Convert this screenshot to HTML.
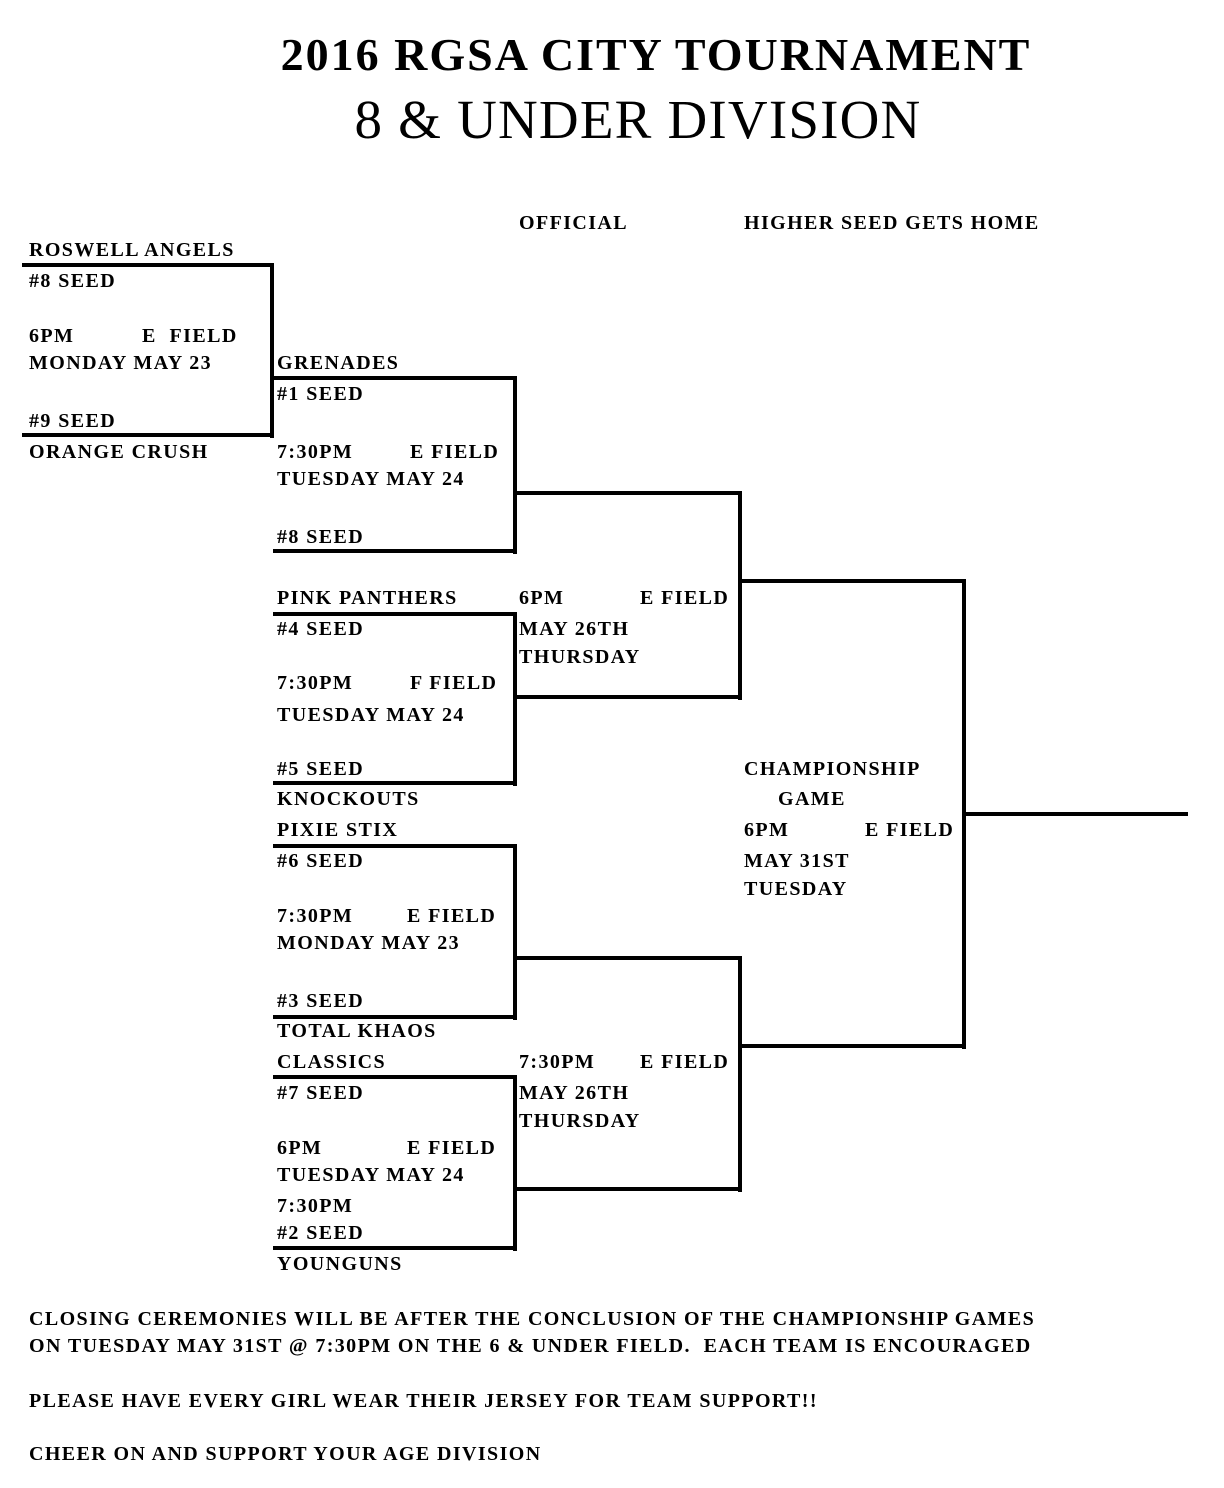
<!DOCTYPE html>
<html><head><meta charset="utf-8"><style>
body{margin:0;background:#fff;}
#c{position:relative;width:1224px;height:1488px;overflow:hidden;font-family:"Liberation Serif",serif;color:#000;}
.t{position:absolute;font-weight:bold;font-size:20px;line-height:20px;white-space:nowrap;letter-spacing:1.4px;margin-top:1px;}
.l{position:absolute;background:#000;}
</style></head><body><div id="c">
<div style="position:absolute;left:0;width:1312px;top:30px;text-align:center;font-weight:bold;font-size:46px;line-height:50px;letter-spacing:2px;">2016 RGSA CITY TOURNAMENT</div>
<div style="position:absolute;left:0;width:1276px;top:90px;text-align:center;font-size:55px;line-height:60px;letter-spacing:1.2px;">8 &amp; UNDER DIVISION</div>

<div class="l" style="left:22px;top:263px;width:252px;height:4px"></div>
<div class="l" style="left:270px;top:263px;width:4px;height:175px"></div>
<div class="l" style="left:22px;top:433px;width:252px;height:4px"></div>

<div class="l" style="left:273px;top:376px;width:244px;height:4px"></div>
<div class="l" style="left:513px;top:376px;width:4px;height:178px"></div>
<div class="l" style="left:273px;top:549px;width:244px;height:4px"></div>

<div class="l" style="left:516px;top:491px;width:226px;height:4px"></div>
<div class="l" style="left:738px;top:491px;width:4px;height:209px"></div>
<div class="l" style="left:516px;top:695px;width:226px;height:4px"></div>

<div class="l" style="left:273px;top:612px;width:244px;height:4px"></div>
<div class="l" style="left:513px;top:612px;width:4px;height:174px"></div>
<div class="l" style="left:273px;top:781px;width:244px;height:4px"></div>

<div class="l" style="left:273px;top:844px;width:244px;height:4px"></div>
<div class="l" style="left:513px;top:844px;width:4px;height:176px"></div>
<div class="l" style="left:273px;top:1015px;width:244px;height:4px"></div>

<div class="l" style="left:516px;top:956px;width:226px;height:4px"></div>
<div class="l" style="left:738px;top:956px;width:4px;height:236px"></div>
<div class="l" style="left:516px;top:1187px;width:226px;height:4px"></div>

<div class="l" style="left:273px;top:1075px;width:244px;height:4px"></div>
<div class="l" style="left:513px;top:1075px;width:4px;height:176px"></div>
<div class="l" style="left:273px;top:1246px;width:244px;height:4px"></div>

<div class="l" style="left:741px;top:579px;width:225px;height:4px"></div>
<div class="l" style="left:962px;top:579px;width:4px;height:470px"></div>
<div class="l" style="left:741px;top:1044px;width:225px;height:4px"></div>
<div class="l" style="left:965px;top:812px;width:223px;height:4px"></div>

<div class="t" style="left:519px;top:212px">OFFICIAL</div>
<div class="t" style="left:744px;top:212px">HIGHER SEED GETS HOME</div>
<div class="t" style="left:29px;top:239px">ROSWELL ANGELS</div>
<div class="t" style="left:29px;top:270px">#8 SEED</div>
<div class="t" style="left:29px;top:325px">6PM</div>
<div class="t" style="left:142px;top:325px">E&nbsp; FIELD</div>
<div class="t" style="left:29px;top:352px">MONDAY MAY 23</div>
<div class="t" style="left:29px;top:410px">#9 SEED</div>
<div class="t" style="left:29px;top:441px">ORANGE CRUSH</div>

<div class="t" style="left:277px;top:352px">GRENADES</div>
<div class="t" style="left:277px;top:383px">#1 SEED</div>
<div class="t" style="left:277px;top:441px">7:30PM</div>
<div class="t" style="left:410px;top:441px">E FIELD</div>
<div class="t" style="left:277px;top:468px">TUESDAY MAY 24</div>
<div class="t" style="left:277px;top:526px">#8 SEED</div>

<div class="t" style="left:277px;top:587px">PINK PANTHERS</div>
<div class="t" style="left:519px;top:587px">6PM</div>
<div class="t" style="left:640px;top:587px">E FIELD</div>
<div class="t" style="left:277px;top:618px">#4 SEED</div>
<div class="t" style="left:519px;top:618px">MAY 26TH</div>
<div class="t" style="left:519px;top:646px">THURSDAY</div>
<div class="t" style="left:277px;top:672px">7:30PM</div>
<div class="t" style="left:410px;top:672px">F FIELD</div>
<div class="t" style="left:277px;top:704px">TUESDAY MAY 24</div>
<div class="t" style="left:277px;top:758px">#5 SEED</div>
<div class="t" style="left:277px;top:788px">KNOCKOUTS</div>
<div class="t" style="left:744px;top:758px">CHAMPIONSHIP</div>
<div class="t" style="left:778px;top:788px">GAME</div>
<div class="t" style="left:277px;top:819px">PIXIE STIX</div>
<div class="t" style="left:744px;top:819px">6PM</div>
<div class="t" style="left:865px;top:819px">E FIELD</div>
<div class="t" style="left:277px;top:850px">#6 SEED</div>
<div class="t" style="left:744px;top:850px">MAY 31ST</div>
<div class="t" style="left:744px;top:878px">TUESDAY</div>
<div class="t" style="left:277px;top:905px">7:30PM</div>
<div class="t" style="left:407px;top:905px">E FIELD</div>
<div class="t" style="left:277px;top:932px">MONDAY MAY 23</div>
<div class="t" style="left:277px;top:990px">#3 SEED</div>
<div class="t" style="left:277px;top:1020px">TOTAL KHAOS</div>
<div class="t" style="left:277px;top:1051px">CLASSICS</div>
<div class="t" style="left:519px;top:1051px">7:30PM</div>
<div class="t" style="left:640px;top:1051px">E FIELD</div>
<div class="t" style="left:277px;top:1082px">#7 SEED</div>
<div class="t" style="left:519px;top:1082px">MAY 26TH</div>
<div class="t" style="left:519px;top:1110px">THURSDAY</div>
<div class="t" style="left:277px;top:1137px">6PM</div>
<div class="t" style="left:407px;top:1137px">E FIELD</div>
<div class="t" style="left:277px;top:1164px">TUESDAY MAY 24</div>
<div class="t" style="left:277px;top:1195px">7:30PM</div>
<div class="t" style="left:277px;top:1222px">#2 SEED</div>
<div class="t" style="left:277px;top:1253px">YOUNGUNS</div>

<div class="t" style="left:29px;top:1308px">CLOSING CEREMONIES WILL BE AFTER THE CONCLUSION OF THE CHAMPIONSHIP GAMES</div>
<div class="t" style="left:29px;top:1335px">ON TUESDAY MAY 31ST @ 7:30PM ON THE 6 &amp; UNDER FIELD.&nbsp; EACH TEAM IS ENCOURAGED</div>
<div class="t" style="left:29px;top:1390px">PLEASE HAVE EVERY GIRL WEAR THEIR JERSEY FOR TEAM SUPPORT!!</div>
<div class="t" style="left:29px;top:1443px">CHEER ON AND SUPPORT YOUR AGE DIVISION</div>
</div></body></html>
